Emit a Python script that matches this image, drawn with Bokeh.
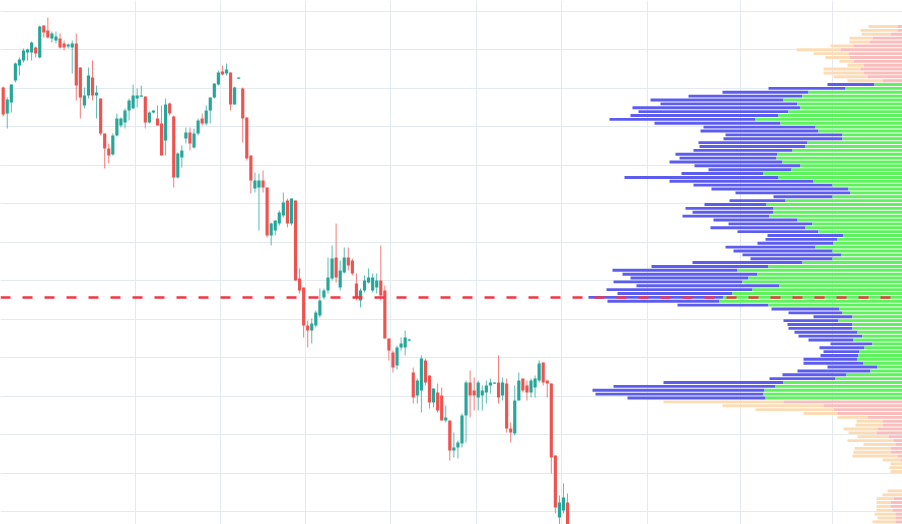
import numpy as np
from bokeh.plotting import figure
from bokeh.models import Range1d, FixedTicker, Span
from bokeh.embed import file_html
from bokeh.resources import INLINE

# ---------------- candle data (price units) ----------------
opens = [913, 887, 898, 920, 935, 940, 948, 948, 953, 943,
         975, 970, 962, 960, 962, 957, 954, 953, 957, 933,
         895, 905, 923, 905, 902, 867, 852, 846, 865, 875,
         878, 890, 892, 902, 904, 904, 878, 888, 882, 877,
         860, 897, 884, 823, 843, 862, 868, 853, 867, 882,
         877, 890, 903, 916, 929, 927, 928, 896, 922, 912,
         883, 845, 812, 813, 820, 813, 765, 770, 777, 785,
         800, 777, 800, 722, 713, 675, 670, 675, 685, 703,
         710, 722, 743, 713, 728, 743, 740, 717, 700, 710,
         718, 710, 713, 720, 710, 662, 648, 635, 653, 653,
         660, 628, 605, 610, 640, 625, 598, 608, 605, 580,
         580, 550, 553, 557, 585, 618, 610, 603, 605, 608,
         615, 617, 618, 605, 617, 572, 567, 600, 622, 615,
         608, 613, 620, 638, 620, 617, 545, 483, 490, 498]
highs = [914, 903, 916, 938, 943, 952, 952, 959, 954, 975,
         975, 983, 969, 969, 967, 960, 957, 960, 967, 933,
         913, 933, 940, 915, 902, 867, 857, 867, 887, 883,
         892, 902, 916, 912, 915, 904, 889, 890, 895, 895,
         902, 898, 885, 848, 855, 873, 873, 872, 882, 887,
         895, 903, 917, 930, 935, 937, 928, 914, 923, 913,
         883, 845, 828, 827, 830, 813, 778, 780, 790, 808,
         802, 802, 800, 732, 713, 680, 682, 690, 712, 712,
         743, 755, 777, 740, 753, 753, 742, 727, 712, 725,
         732, 727, 727, 755, 715, 662, 650, 655, 663, 670,
         662, 633, 622, 645, 642, 625, 612, 617, 613, 595,
         580, 568, 560, 587, 620, 630, 623, 620, 615, 620,
         622, 618, 645, 623, 622, 578, 615, 628, 622, 620,
         622, 625, 640, 638, 620, 617, 545, 505, 517, 507]
lows = [884, 872, 888, 918, 925, 938, 940, 940, 943, 942,
        963, 962, 958, 957, 952, 950, 952, 927, 900, 882,
        892, 902, 900, 882, 865, 832, 837, 845, 864, 873,
        872, 880, 892, 893, 904, 872, 877, 887, 875, 845,
        845, 885, 813, 822, 833, 857, 850, 852, 865, 875,
        875, 877, 902, 915, 925, 925, 890, 896, 922, 858,
        840, 807, 808, 770, 808, 763, 755, 765, 775, 783,
        773, 775, 720, 707, 663, 653, 657, 673, 683, 701,
        707, 720, 718, 710, 727, 730, 725, 700, 693, 708,
        717, 708, 707, 700, 662, 640, 628, 631, 650, 645,
        660, 597, 597, 588, 615, 592, 593, 588, 580, 578,
        540, 543, 542, 553, 558, 583, 590, 590, 590, 597,
        607, 617, 597, 600, 568, 558, 565, 600, 608, 600,
        603, 603, 618, 615, 603, 527, 487, 476, 487, 465]
closes = [886, 901, 916, 937, 941, 950, 951, 958, 947, 974,
          968, 963, 967, 964, 953, 953, 956, 957, 915, 903,
          905, 925, 905, 908, 867, 852, 845, 865, 882, 882,
          890, 900, 905, 905, 905, 878, 888, 890, 875, 845,
          896, 887, 823, 847, 850, 868, 857, 867, 880, 877,
          890, 903, 917, 928, 926, 931, 896, 913, 923, 882,
          842, 820, 820, 820, 813, 765, 777, 780, 788, 798,
          777, 802, 720, 710, 675, 670, 677, 688, 700, 710,
          723, 742, 723, 730, 743, 735, 727, 703, 710, 720,
          723, 723, 720, 705, 662, 650, 633, 653, 657, 663,
          661, 603, 620, 642, 618, 598, 612, 590, 580, 583,
          550, 553, 558, 585, 618, 605, 605, 618, 610, 615,
          618, 618, 603, 618, 572, 568, 600, 620, 610, 608,
          620, 622, 637, 618, 617, 543, 493, 498, 503, 470]

# ---------------- volume profile (rows from top to bottom) ----------------
row_top_price = 974.0
row_step = 3.87
value_area_rows = (15, 97)   # first row inside, first row after
vol_total = [34, 42, 41, 53, 53, 72, 106, 89, 77, 63, 55, 79, 79, 69, 55,
             75, 134, 180, 214, 252, 242, 270, 264, 272, 293,
             248, 199, 202, 177, 179, 204, 203, 209, 227, 223,
             233, 208, 194, 221, 278, 233,
             209, 191, 167, 129, 173, 198, 217, 210, 220, 189,
             174, 192, 165, 135, 137, 145, 177, 169, 160, 152,
             210, 251, 290, 280, 272, 289, 266, 296, 285, 314,
             295, 225, 131, 114, 89, 119, 115, 114, 108, 104,
             94, 72, 83, 79, 82, 99, 99, 75, 105, 120,
             133, 239, 289, 310, 307, 275,
             239, 180, 147, 99, 65, 46, 47, 59, 54, 45,
             55, 39, 48, 49, 50, 20, 12, 13, 12, 0,
             0, 0, 0, 15, 20, 26, 26, 26, 26, 28,
             25, 30]
vol_up = [5, 5, 12, 30, 33, 49, 62, 54, 53, 49, 39, 42, 39, 35, 20,
          28, 57, 94, 100, 119, 105, 102, 114, 124, 147,
          122, 87, 84, 60, 60, 95, 97, 110, 125, 126,
          120, 102, 111, 139, 124, 89,
          70, 54, 52, 70, 117, 136, 129, 129, 133, 105,
          90, 97, 84, 59, 65, 69, 87, 70, 61, 70,
          100, 134, 165, 145, 154, 160, 123, 150, 170, 179,
          183, 134, 63, 60, 50, 64, 50, 50, 45, 40,
          49, 30, 38, 43, 44, 45, 39, 25, 32, 56,
          67, 119, 127, 138, 139, 137,
          119, 79, 69, 65, 35, 20, 20, 25, 26, 14,
          9, 7, 12, 12, 5, 2, 0, 0, 0, 0,
          0, 0, 0, 0, 0, 9, 12, 12, 10, 7,
          7, 7]

# grid levels
x_grid_bars = [32.6, 53.5, 74.5, 95.4, 116.6, 137.5, 158.7, 181.6, 204.3]
y_grid_prices = [989.5, 951.0, 912.5, 874.0, 835.5, 797.0, 758.5, 720.0,
                 681.5, 643.0, 604.5, 566.0, 527.5, 489.0]

# ---------------- figure ----------------
p = figure(width=902, height=524,
           x_range=Range1d(-0.665, 221.5), y_range=Range1d(476, 1000),
           output_backend="svg", toolbar_location=None, min_border=0,
           x_axis_location=None, y_axis_location=None)
p.outline_line_color = None
p.background_fill_color = "white"
p.xgrid.ticker = FixedTicker(ticks=x_grid_bars)
p.ygrid.ticker = FixedTicker(ticks=y_grid_prices)
p.grid.grid_line_color = "#e4ebf0"
p.grid.grid_line_width = 1

UP = "#26a69a"
DOWN = "#ef5350"
idx = np.arange(len(opens))
o = np.array(opens, float); c = np.array(closes, float)
h = np.array(highs, float); l = np.array(lows, float)
inc = c >= o
cols = np.where(inc, UP, DOWN)

p.segment(x0=idx, y0=h, x1=idx, y1=l, line_color=cols, line_width=1, line_alpha=0.75)
top = np.maximum(o, c); bot = np.minimum(o, c)
bot = np.where(top - bot < 1.2, top - 1.2, bot)
p.vbar(x=idx, width=0.78, top=top, bottom=bot, fill_color=cols, line_color=None)

# volume profile anchored at the right edge
p.extra_x_ranges = {"vol": Range1d(start=902, end=0)}
n = len(vol_total)
levels = row_top_price - row_step * np.arange(n)
tot = np.array(vol_total, float); up = np.array(vol_up, float)
k = np.arange(n)
in_va = (k >= value_area_rows[0]) & (k < value_area_rows[1])
inner_col = np.where(in_va, "#5ef25e", "#f9bdbd")
outer_col = np.where(in_va, "#5c5cef", "#fcdcb6")
p.hbar(y=levels, height=2.9, left=up, right=tot, x_range_name="vol",
       fill_color=outer_col, line_color=None)
p.hbar(y=levels, height=2.9, left=0, right=up, x_range_name="vol",
       fill_color=inner_col, line_color=None)

poc = levels[int(np.argmax(tot))]
p.add_layout(Span(location=poc, dimension="width", line_color="#f23645",
                  line_dash="10 12", line_width=2.5))

open("out.html", "w").write(file_html(p, INLINE))
